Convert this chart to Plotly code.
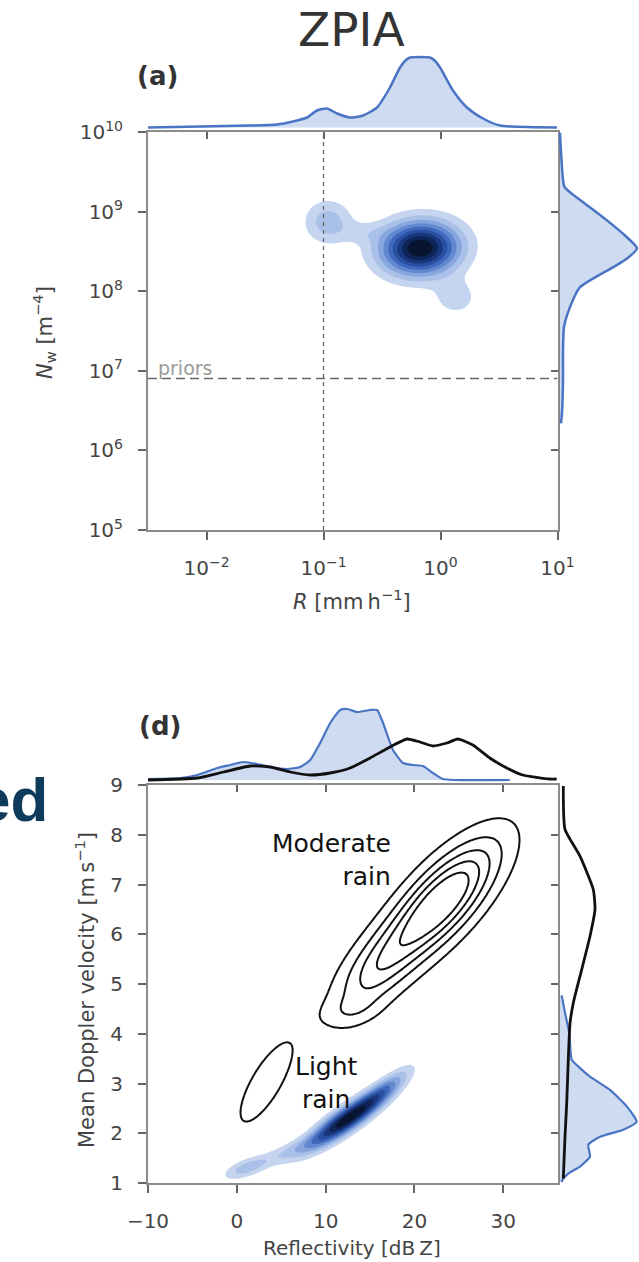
import numpy as np
import plotly.graph_objects as go

W, H = 639, 1262

# ------------------------------------------------------------------
# Panel (a): ZPIA retrieval, axes in log10 units
# ------------------------------------------------------------------
a_xtick_vals = [-2, -1, 0, 1]
a_xtick_text = ["10<sup>−2</sup>", "10<sup>−1</sup>", "10<sup>0</sup>", "10<sup>1</sup>"]
a_ytick_vals = [5, 6, 7, 8, 9, 10]
a_ytick_text = ["10<sup>5</sup>", "10<sup>6</sup>", "10<sup>7</sup>",
                "10<sup>8</sup>", "10<sup>9</sup>", "10<sup>10</sup>"]
a_xrange = [-2.5, 1.0]
a_yrange = [5.0, 10.0]

prior_R = 0.1       # mm/h
prior_Nw = 8.0e6    # m^-4

# top marginal: density of log10 R
a_top_logR = [-2.5, -2.056, -1.628, -1.397, -1.261, -1.141, -1.056, -0.970, -0.885,
              -0.774, -0.662, -0.543, -0.432, -0.346, -0.300, -0.261, -0.175, -0.090,
              -0.050, -0.004, 0.107, 0.226, 0.363, 0.509, 0.996]
a_top_dens = [0, 1, 2, 3, 6, 10, 17, 19, 14,
              10, 12, 20, 40, 60, 67, 70, 70.5, 70,
              67, 60, 37, 20, 9, 2, 0]

# right marginal: density of log10 Nw
a_right_logNw = [9.99, 9.65, 9.31, 9.18, 9.04, 8.89, 8.70, 8.54, 8.41, 8.30,
                 8.05, 7.80, 7.55, 7.22, 6.88, 6.47, 6.34]
a_right_dens = [0.5, 2.0, 5.0, 17.0, 32.0, 47.5, 65.5, 77.5, 67.5, 53.5,
                20.5, 10.5, 4.5, 3.5, 3.5, 2.5, 1.5]

# joint density blobs (centre, spread, correlation, peak weight)
a_comp_logR = [-0.175, -0.96, 0.13, -0.66]
a_comp_logNw = [8.54, 8.87, 7.92, 8.74]
a_comp_sR = [0.23, 0.14, 0.13, 0.13]
a_comp_sNw = [0.23, 0.19, 0.16, 0.09]
a_comp_rho = [0.05, 0.0, 0.0, 0.0]
a_comp_w = [1.0, 0.26, 0.16, 0.09]
a_levels = [0.1, 0.9, 0.1]   # start, end, step (fraction of max)

# ------------------------------------------------------------------
# Panel (d): Reflectivity vs mean Doppler velocity
# ------------------------------------------------------------------
d_xtick_vals = [-10, 0, 10, 20, 30]
d_ytick_vals = [1, 2, 3, 4, 5, 6, 7, 8, 9]
d_xrange = [-10, 36.1]
d_yrange = [1, 9]

# top marginal (reflectivity)
d_top_blue_Z = [-10, -6.35, -4.44, -2.19, -0.73, 0.73, 2.30, 3.76, 5.67, 7.13, 8.26,
                9.38, 10.51, 11.63, 12.42, 13.54, 15.0, 15.79, 16.46, 17.58, 18.71,
                19.83, 20.96, 22.08, 23.20, 30.73]
d_top_blue_dens = [1, 2, 5, 12, 15, 18, 16, 13, 11, 13, 20,
                   37, 57, 70, 71, 68, 70, 70, 57, 30, 17,
                   15, 14, 7, 1, 0]
d_top_black_Z = [-10, -4.44, -1.52, 1.52, 3.76, 6.01, 8.26, 10.51, 12.75, 15.0, 17.25,
                 19.16, 20.62, 22.08, 23.65, 24.89, 26.57, 28.48, 30.39, 32.19, 35.22, 36.0]
d_top_black_dens = [0, 2, 8, 14, 13, 8, 5, 7, 12, 22, 33,
                    41, 38, 34, 37, 41, 35, 22, 12, 5, 1, 1]

# right marginal (velocity)
d_right_blue_v = [4.77, 4.42, 4.01, 3.48, 3.31, 3.14, 2.87, 2.54, 2.23, 2.07,
                  1.93, 1.77, 1.53, 1.33, 1.19, 1.09, 1.02]
d_right_blue_dens = [2.2, 5.5, 9.8, 12.2, 20.5, 30.5, 50.5, 67.2, 77.2, 63.8,
                     40.5, 28.8, 30.5, 20.5, 8.8, 3.8, 2.0]
d_right_black_v = [8.98, 8.11, 7.57, 6.90, 6.50, 5.96, 5.29, 4.62, 4.21, 3.48,
                   2.60, 1.93, 1.09]
d_right_black_dens = [3.8, 5.5, 20.5, 33.8, 35.5, 30.5, 22.2, 13.8, 10.5, 8.8,
                      7.2, 5.5, 3.8]

# light rain (blue, filled) joint density blobs
d_blue_Z = [12.3, 16.5, 6.0, 1.0]
d_blue_v = [2.27, 2.85, 1.64, 1.30]
d_blue_sZ = [2.9, 2.1, 2.6, 1.7]
d_blue_sv = [0.38, 0.32, 0.22, 0.16]
d_blue_rho = [0.87, 0.85, 0.8, 0.6]
d_blue_w = [1.0, 0.35, 0.19, 0.25]
d_blue_levels = [0.1, 0.9, 0.1]

# moderate rain (black lines) joint density blobs + light rain blob
d_black_Z = [23.0, 15.5, 12.8, 3.3]
d_black_v = [6.65, 5.25, 4.45, 3.02]
d_black_sZ = [4.3, 3.2, 2.2, 2.9]
d_black_sv = [0.82, 0.62, 0.22, 0.79]
d_black_rho = [0.74, 0.62, 0.3, 0.77]
d_black_w = [1.0, 0.4, 0.12, 0.2]
d_black_levels = [0.12, 0.76, 0.16]

# ------------------------------------------------------------------
# helpers
# ------------------------------------------------------------------
def mixture(xg, yg, mx, my, sx, sy, rho, w):
    X, Y = np.meshgrid(xg, yg)
    Z = np.zeros_like(X)
    for i in range(len(mx)):
        dx = (X - mx[i]) / sx[i]
        dy = (Y - my[i]) / sy[i]
        r = rho[i]
        q = (dx * dx - 2 * r * dx * dy + dy * dy) / (1 - r * r)
        Z += w[i] * np.exp(-0.5 * q)
    return np.round(Z / Z.max(), 4)


def px_x(p):
    return p / W


def px_y(p):
    return 1 - p / H


band_colors = ["#c5d4ef", "#a9c0e8", "#86a6dd", "#6288cf", "#3f69bd",
               "#2950a1", "#1a387f", "#0f2457", "#071530"]


def band_scale(n):
    cols = ["rgba(255,255,255,0)"] + band_colors[:n]
    return [[k / n, c] for k, c in enumerate(cols)]


BLUE = "#4a74c4"
FILL = "rgba(60,110,200,0.25)"
FONT = "DejaVu Sans"

fig = go.Figure()

# ---------------- panel (a) ----------------
ag_x = np.linspace(a_xrange[0], a_xrange[1], 220)
ag_y = np.linspace(a_yrange[0], a_yrange[1], 220)
az = mixture(ag_x, ag_y, a_comp_logR, a_comp_logNw, a_comp_sR, a_comp_sNw, a_comp_rho, a_comp_w)
na = int(round((a_levels[1] - a_levels[0]) / a_levels[2])) + 1
fig.add_trace(go.Contour(
    x=ag_x, y=ag_y, z=az, xaxis="x", yaxis="y",
    autocontour=False,
    contours=dict(start=a_levels[0], end=a_levels[1], size=a_levels[2], coloring="fill"),
    colorscale=band_scale(na), showscale=False, line=dict(width=0, smoothing=1),
    hoverinfo="skip"))

fig.add_trace(go.Scatter(x=[np.log10(prior_R)] * 2, y=a_yrange, mode="lines",
                         line=dict(color="#666", width=1.3, dash="4px,4px"),
                         xaxis="x", yaxis="y", showlegend=False, hoverinfo="skip"))
fig.add_trace(go.Scatter(x=a_xrange, y=[np.log10(prior_Nw)] * 2, mode="lines",
                         line=dict(color="#666", width=1.3, dash="9px,5px"),
                         xaxis="x", yaxis="y", showlegend=False, hoverinfo="skip"))

fig.add_trace(go.Scatter(x=a_top_logR, y=a_top_dens, mode="lines", fill="tozeroy",
                         fillcolor=FILL, line=dict(color=BLUE, width=2.5, shape="spline", smoothing=0.6),
                         xaxis="x2", yaxis="y2", showlegend=False, hoverinfo="skip"))
fig.add_trace(go.Scatter(x=a_right_dens, y=a_right_logNw, mode="lines", fill="tozerox",
                         fillcolor=FILL, line=dict(color=BLUE, width=2.5, shape="spline", smoothing=0.6),
                         xaxis="x3", yaxis="y3", showlegend=False, hoverinfo="skip"))

# ---------------- panel (d) ----------------
dg_x = np.linspace(d_xrange[0], d_xrange[1], 240)
dg_y = np.linspace(d_yrange[0], d_yrange[1], 240)
dz_blue = mixture(dg_x, dg_y, d_blue_Z, d_blue_v, d_blue_sZ, d_blue_sv, d_blue_rho, d_blue_w)
dz_black = mixture(dg_x, dg_y, d_black_Z, d_black_v, d_black_sZ, d_black_sv, d_black_rho, d_black_w)
nd = int(round((d_blue_levels[1] - d_blue_levels[0]) / d_blue_levels[2])) + 1
fig.add_trace(go.Contour(
    x=dg_x, y=dg_y, z=dz_blue, xaxis="x4", yaxis="y4",
    autocontour=False,
    contours=dict(start=d_blue_levels[0], end=d_blue_levels[1], size=d_blue_levels[2], coloring="fill"),
    colorscale=band_scale(nd), showscale=False, line=dict(width=0, smoothing=1),
    hoverinfo="skip"))
fig.add_trace(go.Contour(
    x=dg_x, y=dg_y, z=dz_black, xaxis="x4", yaxis="y4",
    autocontour=False,
    contours=dict(start=d_black_levels[0], end=d_black_levels[1], size=d_black_levels[2],
                  coloring="none"),
    showscale=False, line=dict(width=2, color="#111", smoothing=1),
    hoverinfo="skip"))

fig.add_trace(go.Scatter(x=d_top_blue_Z, y=d_top_blue_dens, mode="lines", fill="tozeroy",
                         fillcolor=FILL, line=dict(color=BLUE, width=2.2, shape="spline", smoothing=0.5),
                         xaxis="x5", yaxis="y5", showlegend=False, hoverinfo="skip"))
fig.add_trace(go.Scatter(x=d_top_black_Z, y=d_top_black_dens, mode="lines",
                         line=dict(color="#111", width=2.8, shape="spline", smoothing=0.5),
                         xaxis="x5", yaxis="y5", showlegend=False, hoverinfo="skip"))
fig.add_trace(go.Scatter(x=d_right_blue_dens, y=d_right_blue_v, mode="lines", fill="tozerox",
                         fillcolor=FILL, line=dict(color=BLUE, width=2.2, shape="spline", smoothing=0.5),
                         xaxis="x6", yaxis="y6", showlegend=False, hoverinfo="skip"))
fig.add_trace(go.Scatter(x=d_right_black_dens, y=d_right_black_v, mode="lines",
                         line=dict(color="#111", width=2.8, shape="spline", smoothing=0.5),
                         xaxis="x6", yaxis="y6", showlegend=False, hoverinfo="skip"))

# dummy traces for tick-only overlay axes
for xa, ya in [("x7", "y"), ("x", "y7"), ("x8", "y4"), ("x4", "y8")]:
    fig.add_trace(go.Scatter(x=[], y=[], xaxis=xa, yaxis=ya, showlegend=False, hoverinfo="skip"))

# ------------------------------------------------------------------
# layout
# ------------------------------------------------------------------
XD = [px_x(148), px_x(557.5)]
XR = [px_x(557.5), 1.0]
tickfont = dict(family=FONT, size=20, color="#444")


def main_axis(rng, tv, tt, dom, anchor):
    return dict(range=rng, domain=dom, anchor=anchor, tickvals=tv, ticktext=tt,
                automargin=False, showgrid=False, zeroline=False, showline=True,
                linecolor="#8c8c8c", linewidth=2, mirror=True, ticks="outside",
                ticklen=8, tickwidth=2, tickcolor="#666", tickfont=tickfont,
                ticklabelstandoff=11)


def tick_overlay(rng, tv, over, side, anchor):
    return dict(range=rng, overlaying=over, side=side, anchor=anchor, tickvals=tv,
                automargin=False, showticklabels=False, showgrid=False, zeroline=False,
                showline=False, ticks="inside", ticklen=7, tickwidth=2, tickcolor="#666")


def hidden(rng, dom, anchor):
    return dict(range=rng, domain=dom, anchor=anchor, visible=False, automargin=False,
                showgrid=False, zeroline=False)


a_main_y = [px_y(530), px_y(132)]
a_top_y = [px_y(131), px_y(50)]
d_main_y = [px_y(1183), px_y(785)]
d_top_y = [px_y(784), px_y(700)]

fig.update_layout(
    template="none",
    width=W, height=H, margin=dict(l=0, r=0, t=0, b=0, pad=0), autosize=False,
    paper_bgcolor="white", plot_bgcolor="white", showlegend=False,
    font=dict(family=FONT, color="#444"),
    xaxis=main_axis(a_xrange, a_xtick_vals, a_xtick_text, XD, "y"),
    yaxis=main_axis(a_yrange, a_ytick_vals, a_ytick_text, a_main_y, "x"),
    xaxis2=hidden(a_xrange, XD, "y2"),
    yaxis2=hidden([-3.5, 77.5], a_top_y, "x2"),
    xaxis3=hidden([-2, 79.5], XR, "y3"),
    yaxis3=hidden(a_yrange, a_main_y, "x3"),
    xaxis4=main_axis(d_xrange, d_xtick_vals, [str(v).replace("-", "−") for v in d_xtick_vals], XD, "y4"),
    yaxis4=main_axis(d_yrange, d_ytick_vals, [str(v) for v in d_ytick_vals], d_main_y, "x4"),
    xaxis5=hidden(d_xrange, XD, "y5"),
    yaxis5=hidden([-4, 80], d_top_y, "x5"),
    xaxis6=hidden([-2, 79.5], XR, "y6"),
    yaxis6=hidden(d_yrange, d_main_y, "x6"),
    xaxis7=tick_overlay(a_xrange, a_xtick_vals, "x", "top", "y"),
    yaxis7=tick_overlay(a_yrange, a_ytick_vals, "y", "right", "x"),
    xaxis8=tick_overlay(d_xrange, d_xtick_vals, "x4", "top", "y4"),
    yaxis8=tick_overlay(d_yrange, d_ytick_vals, "y4", "right", "x4"),
)

ann = []


def add_text(text, x, y, size, color="#444", xanchor="center", yanchor="middle",
             angle=0, family=FONT, align="center", xref="paper", yref="paper"):
    ann.append(dict(text=text, x=x, y=y, xref=xref, yref=yref, showarrow=False,
                    font=dict(size=size, color=color, family=family),
                    xanchor=xanchor, yanchor=yanchor, textangle=angle, align=align))


add_text("ZPIA", px_x(351), px_y(29), 47, color="#333")
add_text("<b>(a)</b>", px_x(135), px_y(76), 26, color="#333", xanchor="left")
add_text("<b>(d)</b>", px_x(137), px_y(726), 26, color="#333", xanchor="left")
add_text("<b>ed</b>", px_x(50), px_y(799), 62, color="#0e3a5c", xanchor="right",
         family="Liberation Sans")
add_text("priors", px_x(156), px_y(368), 19, color="#999", xanchor="left")
add_text("<i>N</i><sub>w</sub> [m<sup>−4</sup>]", px_x(44), px_y(333), 21, angle=-90)
add_text("<i>R</i> [mm\u2009h<sup>−1</sup>]", px_x(352), px_y(600), 21)
add_text("Mean Doppler velocity [m\u2009s<sup>−1</sup>]", px_x(85), px_y(990), 21, angle=-90)
add_text("Reflectivity [dB\u2009Z]", px_x(352), px_y(1248), 20)
add_text("Moderate<br>rain", 17.6, 7.49, 25, color="#111", xanchor="right", align="right",
         xref="x4", yref="y4")
add_text("Light<br>rain", 10.06, 3.02, 25, color="#111", xref="x4", yref="y4")

fig.update_layout(annotations=ann)
# remove the browser's default 8px page margin so the figure fills the window exactly
fig.write_html("out.html",
               config={"displayModeBar": False},
               post_script="document.body.style.margin='0px';document.body.style.overflow='hidden';")
